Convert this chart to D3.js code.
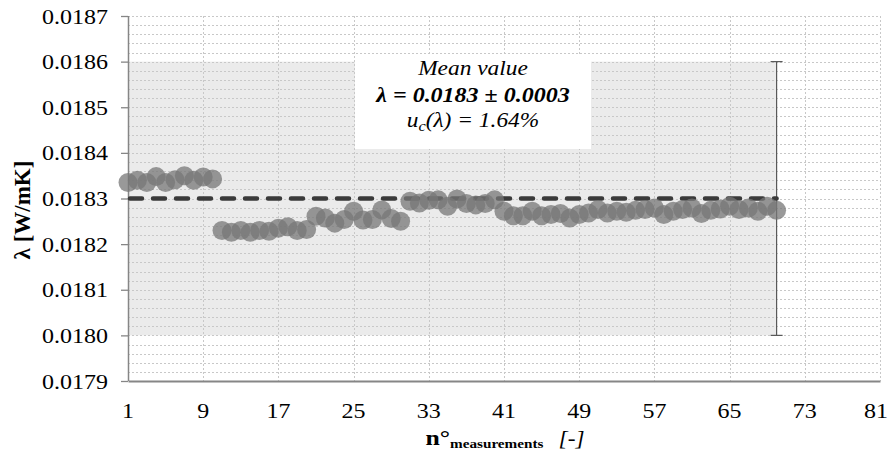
<!DOCTYPE html>
<html>
<head>
<meta charset="utf-8">
<script src="https://cdn.jsdelivr.net/npm/d3@7"></script>
<style>
  html, body { margin: 0; padding: 0; background: #fff; }
  text { font-family: "Liberation Serif", "Times New Roman", Times, serif; fill: #000; }
</style>
</head>
<body>
<svg id="chart" width="890" height="459"></svg>
<script>
// ---- data ----
const measurementIndex = d3.range(1, 71);
const lambdaValues = [
  0.018335, 0.018340, 0.018335, 0.018348, 0.018335, 0.018341, 0.018350, 0.018340, 0.018347, 0.018343,
  0.018230, 0.018226, 0.018230, 0.018226, 0.018230, 0.018228, 0.018235, 0.018238, 0.018230, 0.018232,
  0.018261, 0.018257, 0.018246, 0.018254, 0.018272, 0.018253, 0.018254, 0.018275, 0.018256, 0.018250,
  0.018294, 0.018290, 0.018296, 0.018297, 0.018283, 0.018299, 0.018289, 0.018286, 0.018289, 0.018297,
  0.018272, 0.018262, 0.018262, 0.018272, 0.018262, 0.018265, 0.018267, 0.018257, 0.018265, 0.018268,
  0.018276, 0.018268, 0.018272, 0.018270, 0.018274, 0.018276, 0.018279, 0.018265, 0.018272, 0.018276,
  0.018279, 0.018267, 0.018274, 0.018277, 0.018283, 0.018276, 0.018279, 0.018272, 0.018283, 0.018274
];
const meanValue = 0.0183;
const uncertainty = 0.0003;
const xTicks = [1, 9, 17, 25, 33, 41, 49, 57, 65, 73, 81];
const yTicks = [0.0179, 0.0180, 0.0181, 0.0182, 0.0183, 0.0184, 0.0185, 0.0186, 0.0187];
const yMinorStep = 0.00002;
const boxLines = ["Mean value", "λ = 0.0183 ± 0.0003", "1.64%"];

// ---- layout ----
const svg = d3.select("#chart");
const L = 128, R = 880, T = 16, B = 381;
const SX = 1.17; // horizontal stretch of the source picture's text
const x = d3.scaleLinear().domain([1, 81]).range([L, R]);
const y = d3.scaleLinear().domain([0.0179, 0.0187]).range([B, T]);

function stext(parent, px, py, sx) {
  return parent.append("text").attr("transform", `translate(${px},${py}) scale(${sx},1)`);
}

// shaded uncertainty band
svg.append("rect")
  .attr("x", x(1)).attr("y", y(meanValue + uncertainty))
  .attr("width", x(70) - x(1)).attr("height", y(meanValue - uncertainty) - y(meanValue + uncertainty))
  .attr("fill", "#ebebeb");

// gridlines
const grid = svg.append("g").attr("stroke", "#c8c8c8").attr("stroke-width", 1).attr("stroke-dasharray", "2,2");
const minorVals = d3.range(0, 41).map(i => 0.0179 + i * yMinorStep);
grid.selectAll("line.h").data(minorVals.slice(1)).join("line").attr("class", "h")
  .attr("x1", L).attr("x2", R).attr("y1", d => Math.round(y(d)) + 0.5).attr("y2", d => Math.round(y(d)) + 0.5);
grid.selectAll("line.v").data(xTicks.slice(1)).join("line").attr("class", "v")
  .attr("x1", d => Math.round(x(d)) + 0.5).attr("x2", d => Math.round(x(d)) + 0.5).attr("y1", T).attr("y2", B);

// y axis
const yAxis = svg.append("g").attr("transform", `translate(${L},0)`)
  .call(d3.axisLeft(y).tickValues(yTicks).tickSize(7).tickFormat(""));
yAxis.select(".domain").attr("stroke", "#868686").attr("stroke-width", 1.5).attr("d", `M0.5,${T}V${B}`);
yAxis.selectAll(".tick line").attr("stroke", "#868686").attr("stroke-width", 1.3);
yTicks.forEach(v => {
  stext(svg, 108, y(v) + 7.5, SX).attr("text-anchor", "end").attr("font-size", 20.5).text(d3.format(".4f")(v));
});

// x axis
const xAxis = svg.append("g").attr("transform", `translate(0,${B})`)
  .call(d3.axisBottom(x).tickValues(xTicks).tickSize(0).tickFormat(""));
xAxis.select(".domain").attr("stroke", "#868686").attr("stroke-width", 2.2);
xTicks.forEach(v => {
  stext(svg, Math.min(x(v), 876), 418, SX).attr("text-anchor", "middle").attr("font-size", 20.5).text(v);
});

// error bar at last measurement
const ebx = x(70);
const eb = svg.append("g").attr("stroke", "#595959").attr("stroke-width", 1.2);
eb.append("line").attr("x1", ebx).attr("x2", ebx).attr("y1", y(meanValue + uncertainty)).attr("y2", y(meanValue - uncertainty));
eb.append("line").attr("x1", ebx - 6).attr("x2", ebx + 6).attr("y1", y(meanValue + uncertainty)).attr("y2", y(meanValue + uncertainty));
eb.append("line").attr("x1", ebx - 6).attr("x2", ebx + 6).attr("y1", y(meanValue - uncertainty)).attr("y2", y(meanValue - uncertainty));

// text box
svg.append("rect").attr("x", 355).attr("y", 56).attr("width", 236).attr("height", 93).attr("fill", "#fff");
stext(svg, 473, 75, SX).attr("text-anchor", "middle").attr("font-size", 20).attr("font-style", "italic").text(boxLines[0]);
stext(svg, 473, 101.5, SX).attr("text-anchor", "middle").attr("font-size", 20.5).attr("font-style", "italic").attr("font-weight", "bold").text(boxLines[1]);
const t3 = stext(svg, 473, 127, SX).attr("text-anchor", "middle").attr("font-size", 20).attr("font-style", "italic");
t3.append("tspan").text("u");
t3.append("tspan").attr("font-size", 14).attr("dy", 4).text("c");
t3.append("tspan").attr("dy", -4).text("(λ) = " + boxLines[2]);

// mean dashed line
svg.append("line")
  .attr("x1", x(1) + 2).attr("x2", x(70)).attr("y1", y(meanValue)).attr("y2", y(meanValue))
  .attr("stroke", "#3a3a3a").attr("stroke-width", 4.5).attr("stroke-linecap", "round").attr("stroke-dasharray", "12,11");

// measurement points
svg.append("g").selectAll("circle").data(measurementIndex).join("circle")
  .attr("cx", d => x(d)).attr("cy", (d, i) => y(lambdaValues[i])).attr("r", 9.5)
  .attr("fill", "#777777").attr("fill-opacity", 0.75);

// axis titles
svg.append("text").attr("transform", "translate(30,210) rotate(-90)")
  .attr("text-anchor", "middle").attr("font-size", 23).attr("font-weight", "bold")
  .text("λ  [W/mK]");
const xt = stext(svg, 505, 445, SX).attr("text-anchor", "middle");
xt.append("tspan").attr("font-size", 22).attr("font-weight", "bold").text("n°");
xt.append("tspan").attr("font-size", 13).attr("font-weight", "bold").attr("dy", 3).text("measurements");
xt.append("tspan").attr("font-size", 13).attr("dy", -3).text("\u00a0\u00a0\u00a0\u00a0");
xt.append("tspan").attr("font-size", 20).attr("font-style", "italic").text("[-]");
</script>
</body>
</html>
